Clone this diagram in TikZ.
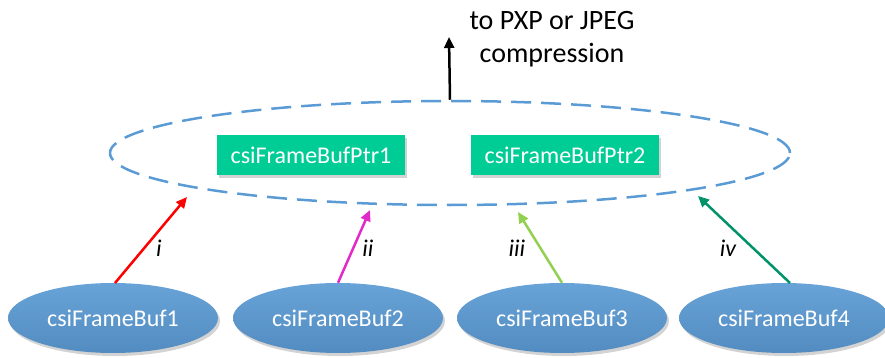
\documentclass[tikz,border=0pt]{standalone}
\usepackage{fontspec}
\setmainfont{Carlito}
\usetikzlibrary{shapes.geometric,shadows,arrows.meta}
\definecolor{bufblue}{HTML}{5B9BD5}
\definecolor{ptrgreen}{HTML}{00CC96}
\definecolor{lgreen}{HTML}{92D050}
\definecolor{dgreen}{HTML}{00936A}
\definecolor{pinkish}{HTML}{E02BC8}
\begin{document}
\begin{tikzpicture}[x=1pt,y=-1pt,line join=round,>={Triangle[length=11pt,width=10pt]},font=\fontsize{24}{28}\selectfont]
			\useasboundingbox (0,0) rectangle (885,358);
			\tikzset{buf/.style={ellipse,minimum width=210pt,minimum height=70pt,inner sep=0pt,
					top color=bufblue!92!white,bottom color=bufblue!90!black,draw=none,text=white,
					drop shadow={opacity=.35,shadow xshift=2pt,shadow yshift=-3pt}},
				ptr/.style={rectangle,minimum width=188pt,minimum height=40pt,inner sep=0pt,fill=ptrgreen,text=white,
					drop shadow={opacity=.35,shadow xshift=2pt,shadow yshift=-3pt}},
				feed/.style={->,line width=2.5pt}}
			% the group of pointers
			\node[ellipse,draw=bufblue,dashed,dash pattern=on 20pt off 10pt,line width=2.5pt,
			minimum width=680pt,minimum height=104pt] (grp) at (450,153) {};
			\node[ptr] (ptr1) at (311,155) {csiFrameBufPtr1};
			\node[ptr] (ptr2) at (565,155) {csiFrameBufPtr2};
			% frame buffers
			\node[buf] (buf1) at (113,318) {csiFrameBuf1};
			\node[buf] (buf2) at (338,318) {csiFrameBuf2};
			\node[buf] (buf3) at (562,318) {csiFrameBuf3};
			\node[buf] (buf4) at (784,318) {csiFrameBuf4};
			\coordinate (e1) at (187,197);
			\coordinate (e2) at (370,210);
			\coordinate (e3) at (518,212);
			\coordinate (e4) at (698,196);
			\draw[feed,red] (115,283) -- (e1);
			\draw[feed,pinkish] (buf2.north) -- (e2);
			\draw[feed,lgreen] (buf3.north) -- (e3);
			\draw[feed,dgreen] (790,283) -- (e4);
			\path[font=\fontsize{24}{28}\selectfont\itshape]
			(159,248) node (li) {i}
			(368,248) node (lii) {ii}
			(517,248) node (liii) {iii}
			(728,248) node (liv) {iv};
			% output
			\coordinate (out) at (449,37);
			\draw[feed,black] (grp.north) -- (out);
			\node[align=center,font=\fontsize{28}{33}\selectfont] (dest) at (552,39) {to PXP or JPEG\\compression};
	\end{tikzpicture}
\end{document}
